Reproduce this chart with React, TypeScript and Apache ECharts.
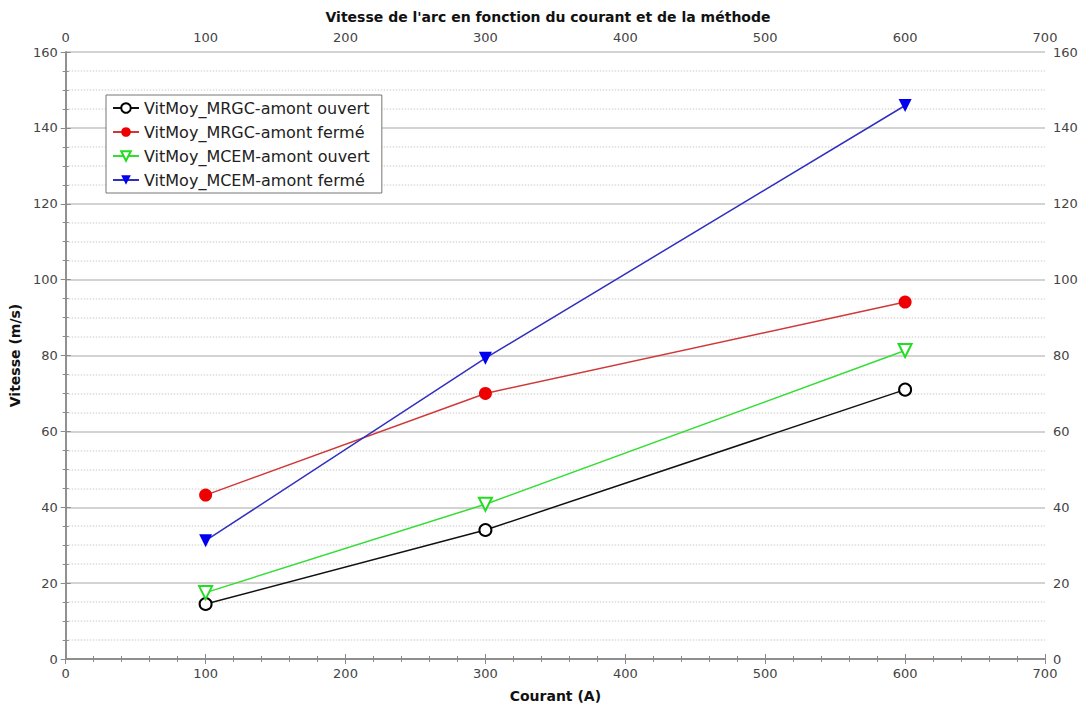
import React, { useEffect, useRef } from "react";
import * as echarts from "echarts";

const courant = [100, 300, 600];
const mrgcOuvert = [14.5, 34.0, 71.0];
const mrgcFerme = [43.2, 70.0, 94.1];
const mcemOuvert = [17.5, 40.8, 81.3];
const mcemFerme = [31.2, 79.3, 145.9];

const seriesNames = [
  "VitMoy_MRGC-amont ouvert",
  "VitMoy_MRGC-amont fermé",
  "VitMoy_MCEM-amont ouvert",
  "VitMoy_MCEM-amont fermé",
];

const FONT = "DejaVu Sans";

export default function App() {
  const ref = useRef<HTMLDivElement>(null);
  useEffect(() => {
    const chart = echarts.init(ref.current!, null, { renderer: "svg" });
    const pair = (ys: number[]) => courant.map((x, i) => [x, ys[i]]);
    const axisLine = { show: true, lineStyle: { color: "#8a8a8a", width: 1.5 } };
    const axisLabel = { color: "#444", fontFamily: FONT, fontSize: 13 };
    const xCommon = {
      type: "value",
      min: 0,
      max: 700,
      interval: 100,
      axisLine,
      axisTick: { show: true, length: 5, lineStyle: { color: "#8a8a8a" } },
      minorTick: { show: true, splitNumber: 5, length: 3, lineStyle: { color: "#8a8a8a" } },
      splitLine: { show: false },
      axisLabel,
    };
    const yCommon = {
      type: "value",
      min: 0,
      max: 160,
      interval: 20,
      axisLine,
      axisTick: { show: true, length: 5, lineStyle: { color: "#8a8a8a" } },
      minorTick: { show: true, splitNumber: 4, length: 3, lineStyle: { color: "#8a8a8a" } },
      axisLabel,
    };
    chart.setOption({
      animation: false,
      backgroundColor: "#fff",
      title: {
        text: "Vitesse de l'arc en fonction du courant et de la méthode",
        left: 543,
        textAlign: "center",
        top: 5,
        textStyle: { fontFamily: FONT, fontSize: 14, fontWeight: "bold", color: "#111" },
      },
      grid: { left: 64, right: 41, top: 52, bottom: 49 },
      legend: {
        orient: "vertical",
        left: 106,
        top: 95,
        itemWidth: 26,
        itemHeight: 12,
        itemGap: 8,
        padding: [5, 12, 5, 6],
        borderColor: "#777",
        borderWidth: 1,
        backgroundColor: "#fff",
        textStyle: { fontFamily: FONT, fontSize: 16, color: "#222" },
        data: seriesNames,
      },
      xAxis: [
        {
          ...xCommon,
          position: "bottom",
          name: "Courant (A)",
          nameLocation: "middle",
          nameGap: 30,
          nameTextStyle: { fontFamily: FONT, fontSize: 14, fontWeight: "bold", color: "#111" },
        },
        { ...xCommon, position: "top" },
      ],
      yAxis: [
        {
          ...yCommon,
          position: "left",
          name: "Vitesse (m/s)",
          nameLocation: "middle",
          nameGap: 40,
          nameTextStyle: { fontFamily: FONT, fontSize: 14, fontWeight: "bold", color: "#111" },
          splitLine: { show: true, lineStyle: { color: "#c4c4c4", width: 1.5 } },
          minorSplitLine: { show: true, lineStyle: { color: "#dcdcdc", type: "dotted", width: 1.5 } },
        },
        {
          ...yCommon,
          position: "right",
          splitLine: { show: false },
        },
      ],
      series: [
        {
          name: seriesNames[0],
          type: "line",
          data: pair(mrgcOuvert),
          symbol: "emptyCircle",
          symbolSize: 12,
          color: "#000",
          lineStyle: { color: "#111", width: 1.5 },
          itemStyle: { color: "#000", borderWidth: 1.5 },
        },
        {
          name: seriesNames[1],
          type: "line",
          data: pair(mrgcFerme),
          symbol: "circle",
          symbolSize: 13,
          color: "#ee0000",
          lineStyle: { color: "#d03838", width: 1.5 },
          itemStyle: { color: "#ee0000" },
        },
        {
          name: seriesNames[2],
          type: "line",
          data: pair(mcemOuvert),
          symbol: "emptyTriangle",
          symbolRotate: 180,
          symbolSize: 13,
          color: "#22dd22",
          lineStyle: { color: "#33dd33", width: 1.5 },
          itemStyle: { color: "#22dd22", borderWidth: 1.5 },
        },
        {
          name: seriesNames[3],
          type: "line",
          data: pair(mcemFerme),
          symbol: "triangle",
          symbolRotate: 180,
          symbolSize: 13,
          color: "#0000ee",
          lineStyle: { color: "#3030c0", width: 1.5 },
          itemStyle: { color: "#0000ee" },
        },
      ],
    });
    return () => chart.dispose();
  }, []);
  return (
    <div
      ref={ref}
      style={{ position: "fixed", left: 0, top: 0, width: 1086, height: 708 }}
    />
  );
}
